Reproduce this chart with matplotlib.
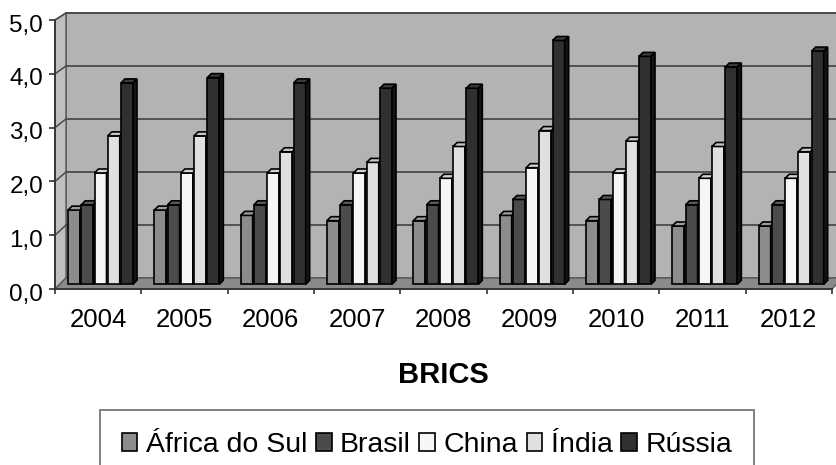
import matplotlib
matplotlib.use("Agg")
import matplotlib.pyplot as plt
from matplotlib.patches import Polygon, Rectangle
from matplotlib.transforms import Affine2D, ScaledTranslation
import numpy as np

# ---- data -------------------------------------------------------------
years = ["2004", "2005", "2006", "2007", "2008", "2009", "2010", "2011", "2012"]
series = ["África do Sul", "Brasil", "China", "Índia", "Rússia"]
africa_do_sul = [1.4, 1.4, 1.3, 1.2, 1.2, 1.3, 1.2, 1.1, 1.1]
brasil = [1.5, 1.5, 1.5, 1.5, 1.5, 1.6, 1.6, 1.5, 1.5]
china = [2.1, 2.1, 2.1, 2.1, 2.0, 2.2, 2.1, 2.0, 2.0]
india = [2.8, 2.8, 2.5, 2.3, 2.6, 2.9, 2.7, 2.6, 2.5]
russia = [3.8, 3.9, 3.8, 3.7, 3.7, 4.6, 4.3, 4.1, 4.4]
y_ticks = [0, 1, 2, 3, 4, 5]
y_tick_labels = ["0,0", "1,0", "2,0", "3,0", "4,0", "5,0"]
x_label = "BRICS"

values = [africa_do_sul, brasil, china, india, russia]

# face colours: front, top, side
front_colors = ["#8c8c8c", "#4b4b4b", "#f6f6f6", "#e0e0e0", "#303030"]
top_colors = ["#9c9c9c", "#5a5a5a", "#d4d4d4", "#c6c6c6", "#3a3a3a"]
side_colors = ["#5c5c5c", "#2c2c2c", "#a8a8a8", "#9a9a9a", "#141414"]

plt.rcParams["font.family"] = ["Liberation Sans", "DejaVu Sans"]

W, H = 836, 465
fig = plt.figure(figsize=(W / 100, H / 100), dpi=100)
fig.patch.set_facecolor("white")

# front plane of the 3-D box
left_px, right_px, zero_px, top_px = 55, 832, 289, 20
ax = fig.add_axes([left_px / W, (H - zero_px) / H,
                   (right_px - left_px) / W, (zero_px - top_px) / H])
ax.set_xlim(0, len(years))
ax.set_ylim(0, 5)
ax.set_autoscale_on(False)
ax.patch.set_visible(False)

px_x = (right_px - left_px) / len(years)
px_y = (zero_px - top_px) / 5.0
y0 = ax.transData.transform((0, 0))[1]


def plane(dx, dy, k):
    """Transform for a plane shifted in depth by (dx, dy) pixels, scaled by k."""
    return ax.transData + Affine2D().translate(0, -y0).scale(1, k).translate(dx, y0 + dy)


inv = ax.transData.inverted()
wall_k = 265.0 / 269.0
T_back = plane(11, 11, wall_k)
bar_k = 53.0 / px_y
T_bar = plane(5, 4.7, bar_k)


def to_front(tr, pts):
    return inv.transform(tr.transform(np.asarray(pts, dtype=float)))


n = len(years)
# back wall
ax.add_patch(Rectangle((0, 0), n, 5, transform=T_back, facecolor="#b3b3b3",
                       edgecolor="#5a5a5a", lw=1.2, clip_on=False, zorder=0))
for v in y_ticks[1:]:
    ax.plot([0, n], [v, v], transform=T_back, color="#4a4a4a", lw=1.3,
            clip_on=False, zorder=1)

# left side wall
pb = to_front(T_back, [(0, 0), (0, 5)])
ax.add_patch(Polygon([(0, 0), (0, 5), pb[1], pb[0]], closed=True,
                     facecolor="#bfbfbf", edgecolor="#5a5a5a", lw=1.0,
                     clip_on=False, zorder=0.5))
for v in y_ticks[1:]:
    b = to_front(T_back, [(0, v)])[0]
    ax.plot([0, b[0]], [v, b[1]], color="#4a4a4a", lw=1.1, clip_on=False, zorder=1)

# floor
fb = to_front(T_back, [(0, 0), (n, 0)])
ax.add_patch(Polygon([(0, 0), (n, 0), fb[1], fb[0]], closed=True,
                     facecolor="#8a8a8a", edgecolor="#5a5a5a", lw=1.0,
                     clip_on=False, zorder=1.5))

# bars
offset = 8.0 / px_x
slot = 13.25 / px_x
bw = 12.0 / px_x
ddx = 4.0 / px_x
ddy = 4.0 / 53.0
xs = np.arange(n)
handles = []
for j, vals in enumerate(values):
    cont = ax.bar(xs + offset + j * slot, vals, width=bw, align="edge",
                  transform=T_bar, color=front_colors[j], edgecolor="black",
                  lw=1.2, clip_on=False, label=series[j])
    handles.append(cont)
    for i, (rect, v) in enumerate(zip(cont.patches, vals)):
        z = 3 + (i * len(values) + j) * 0.01
        rect.set_zorder(z)
        x = xs[i] + offset + j * slot
        top = Polygon([(x, v), (x + bw, v), (x + bw + ddx, v + ddy), (x + ddx, v + ddy)],
                      closed=True, transform=T_bar, facecolor=top_colors[j],
                      edgecolor="black", lw=1.2, clip_on=False, zorder=z)
        side = Polygon([(x + bw, 0), (x + bw + ddx, ddy), (x + bw + ddx, v + ddy), (x + bw, v)],
                       closed=True, transform=T_bar, facecolor=side_colors[j],
                       edgecolor="black", lw=1.2, clip_on=False, zorder=z)
        ax.add_patch(top)
        ax.add_patch(side)

# axes, ticks and labels
for s in ["top", "right"]:
    ax.spines[s].set_visible(False)
for s in ["left", "bottom"]:
    ax.spines[s].set_color("#333333")
    ax.spines[s].set_linewidth(1.3)
    ax.spines[s].set_zorder(5)

ax.set_yticks(y_ticks)
ax.set_yticklabels(y_tick_labels, fontsize=17.5)
ax.tick_params(axis="y", direction="out", length=4.3, width=1.2, pad=4.3,
               color="#333333")
for lab in ax.get_yticklabels():
    lab.set_transform(lab.get_transform() + ScaledTranslation(0, -0.03, fig.dpi_scale_trans))

ax.set_xticks(xs + 0.5)
ax.set_xticklabels(years, fontsize=18.5)
ax.set_xticks(np.arange(n + 1), minor=True)
ax.tick_params(axis="x", which="major", length=0, pad=13.5)
ax.tick_params(axis="x", which="minor", direction="out", length=3.6, width=1.2,
               color="#333333")
ax.set_xlabel(x_label, fontsize=21, fontweight="bold", labelpad=21)

leg = fig.legend(handles=handles, labels=series, ncol=5, loc="upper center",
                 bbox_to_anchor=(427 / W, 1 - 410 / H), bbox_transform=fig.transFigure,
                 fontsize=20.5, frameon=True, fancybox=False, edgecolor="#555555",
                 handlelength=0.55, handleheight=0.62, handletextpad=0.3,
                 columnspacing=0.3, borderpad=0.78, borderaxespad=0)
leg.get_frame().set_linewidth(1.3)

fig.savefig("out.png", dpi=100, facecolor="white")
